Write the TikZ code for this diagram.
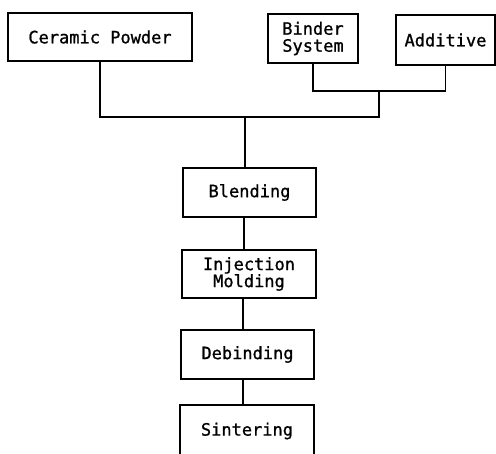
\documentclass[tikz,border=0pt]{standalone}
\usepackage{fontspec}
\setmainfont{DejaVu Sans Mono}
\newfontfamily\boxfont{DejaVu Sans Mono}[FakeBold=1]
\begin{document}
\begin{tikzpicture}[x=1pt,y=-1pt,
  box/.style={draw,line width=1.1pt,inner sep=0pt,align=center,
    font=\boxfont\fontsize{17}{17}\selectfont},
  link/.style={line width=1.1pt}]
\useasboundingbox (0,0) rectangle (496,454);
\node[box,minimum width=184pt,minimum height=48pt] (cp) at (100,37) {Ceramic Powder};
\node[box,minimum width=90pt,minimum height=49pt] (bs) at (313,38.5) {Binder\\System};
\node[box,minimum width=99pt,minimum height=50pt] (ad) at (445.5,40) {Additive};
\node[box,minimum width=133pt,minimum height=49pt] (bl) at (249.5,192.5) {Blending};
\node[box,minimum width=134pt,minimum height=48pt] (im) at (249,274) {Injection\\Molding};
\node[box,minimum width=133pt,minimum height=49pt] (db) at (247.5,354.5) {Debinding};
\node[box,minimum width=134pt,minimum height=52pt] (si) at (247,431) {Sintering};
\coordinate (j1) at (379,91);
\coordinate (j2) at (245,117);
\draw[link] (bs.south) |- (j1) -| (ad.south);
\draw[link] (cp.south) |- (j2) -| (j1);
\draw[link] (j2) -- (j2 |- bl.north);
\draw[link] (244,0 |- bl.south) -- (244,0 |- im.north);
\draw[link] (243,0 |- im.south) -- (243,0 |- db.north);
\draw[link] (243,0 |- db.south) -- (243,0 |- si.north);
\end{tikzpicture}
\end{document}
